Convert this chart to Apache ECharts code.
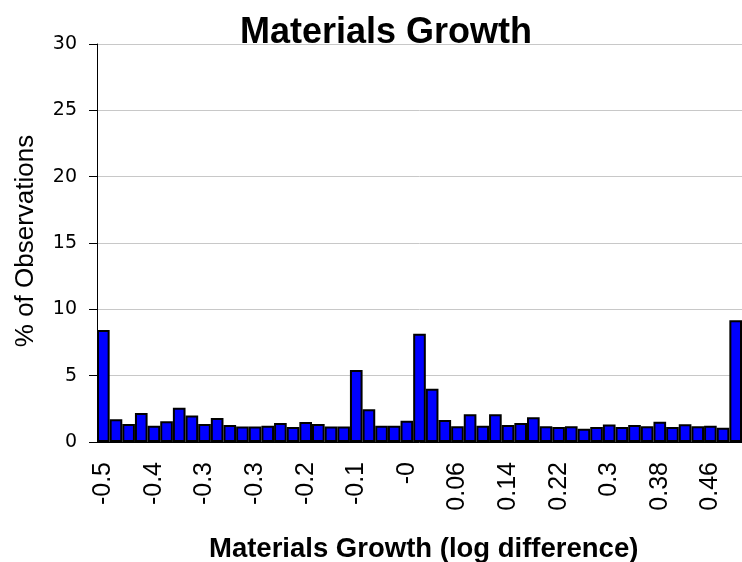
<!DOCTYPE html>
<html>
<head>
<meta charset="utf-8">
<script src="https://cdn.jsdelivr.net/npm/echarts@6/dist/echarts.min.js"></script>
<style>html,body{margin:0;padding:0;background:#fff;}#c{width:742px;height:562px;}</style>
</head>
<body>
<div id="c"></div>
<script>
var categories = [
  "-0.5","-0.5","-0.5","-0.4","-0.4","-0.4","-0.4","-0.4","-0.3","-0.3",
  "-0.3","-0.3","-0.3","-0.2","-0.2","-0.2","-0.2","-0.2","-0.1","-0.1",
  "-0.1","-0.1","-0.1","-0","-0","0","0.02","0.04","0.06","0.08",
  "0.1","0.12","0.14","0.16","0.18","0.2","0.22","0.24","0.26","0.28",
  "0.3","0.32","0.34","0.36","0.38","0.4","0.42","0.44","0.46","0.48",
  "0.5"
];
var pctObservations = [
  8.44,1.71,1.36,2.19,1.23,1.56,2.59,1.99,1.36,1.81,
  1.28,1.16,1.16,1.23,1.43,1.13,1.51,1.36,1.16,1.16,
  5.43,2.46,1.23,1.23,1.61,8.16,4.02,1.66,1.18,2.09,
  1.23,2.09,1.28,1.43,1.86,1.18,1.13,1.18,1.00,1.13,
  1.31,1.13,1.28,1.18,1.53,1.13,1.33,1.18,1.23,1.08,
  9.17
];
var yTicks = {min: 0, max: 30, interval: 5};

var chart = echarts.init(document.getElementById('c'), null, {renderer: 'canvas'});
chart.setOption({
  animation: false,
  backgroundColor: '#ffffff',
  title: [
    {text: 'Materials Growth', left: 235, top: 10,
     textStyle: {fontFamily: 'Liberation Sans, Arial', fontSize: 36, fontWeight: 'bold', color: '#000'}},
    {text: 'Materials Growth (log difference)', left: 204, top: 530,
     textStyle: {fontFamily: 'Liberation Sans, Arial', fontSize: 27.5, fontWeight: 'bold', color: '#000'}}
  ],
  graphic: [{
    type: 'text', x: 26, y: 241, rotation: Math.PI / 2,
    style: {text: '% of Observations', fontFamily: 'Liberation Sans, Arial', fontSize: 26,
            fill: '#000', textAlign: 'center', textVerticalAlign: 'middle'}
  }],
  grid: {left: 97, top: 44, width: 646, height: 398, containLabel: false},
  xAxis: {
    type: 'category', data: categories, boundaryGap: true,
    axisLine: {show: true, lineStyle: {color: '#000', width: 1}},
    axisTick: {show: false},
    axisLabel: {interval: 3, rotate: 90, margin: 20, color: '#000',
                fontFamily: 'Liberation Sans, Arial', fontSize: 25}
  },
  yAxis: {
    type: 'value', min: yTicks.min, max: yTicks.max, interval: yTicks.interval,
    axisLine: {show: true, lineStyle: {color: '#000', width: 1}},
    axisTick: {show: true, inside: false, length: 8, lineStyle: {color: '#000'}},
    axisLabel: {margin: 20, color: '#000', fontFamily: 'DejaVu Sans', fontSize: 19},
    splitLine: {show: true, lineStyle: {color: '#c8c8c8', width: 1}}
  },
  series: [{
    type: 'bar', data: pctObservations, barCategoryGap: '0%',
    itemStyle: {color: '#0000ff', borderColor: '#000', borderWidth: 2}
  }]
});
</script>
</body>
</html>
